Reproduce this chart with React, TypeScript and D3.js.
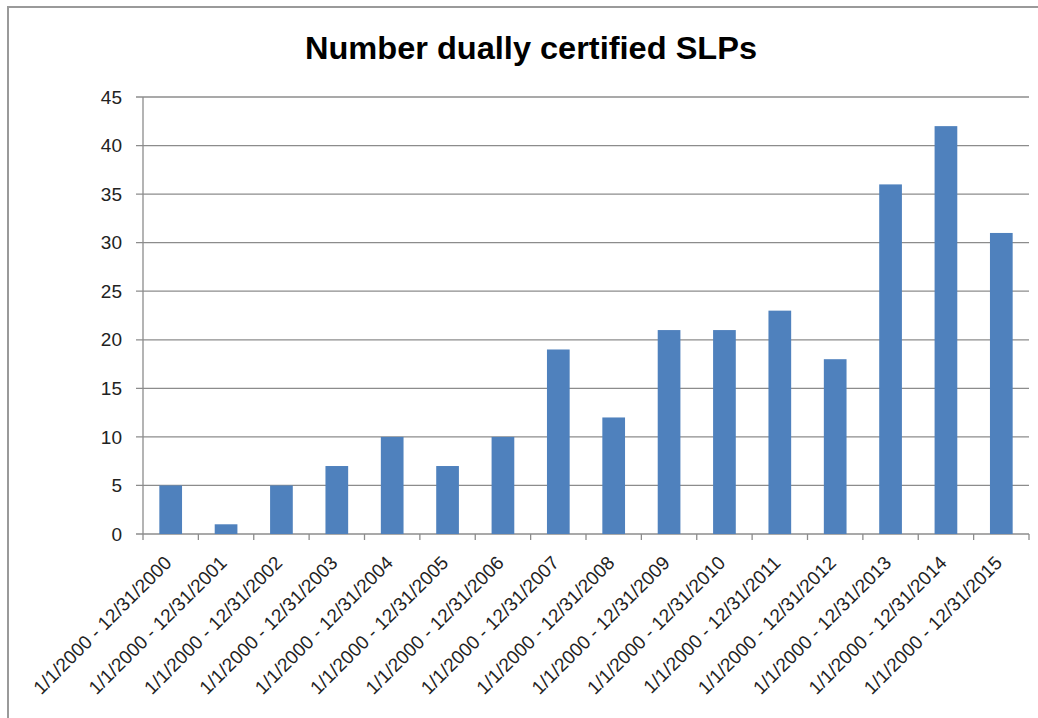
import React from "react";
import * as d3 from "d3";

const categories: string[] = [
  "1/1/2000 - 12/31/2000",
  "1/1/2000 - 12/31/2001",
  "1/1/2000 - 12/31/2002",
  "1/1/2000 - 12/31/2003",
  "1/1/2000 - 12/31/2004",
  "1/1/2000 - 12/31/2005",
  "1/1/2000 - 12/31/2006",
  "1/1/2000 - 12/31/2007",
  "1/1/2000 - 12/31/2008",
  "1/1/2000 - 12/31/2009",
  "1/1/2000 - 12/31/2010",
  "1/1/2000 - 12/31/2011",
  "1/1/2000 - 12/31/2012",
  "1/1/2000 - 12/31/2013",
  "1/1/2000 - 12/31/2014",
  "1/1/2000 - 12/31/2015",
];
const values: number[] = [5, 1, 5, 7, 10, 7, 10, 19, 12, 21, 21, 23, 18, 36, 42, 31];
const yTicks: number[] = [0, 5, 10, 15, 20, 25, 30, 35, 40, 45];
const title = "Number dually certified SLPs";

const W = 1038;
const H = 718;
const left = 143;
const right = 1029;
const top = 97;
const bottom = 534;

export default function App() {
  const x = d3.scaleBand<string>().domain(categories).range([left, right]).paddingInner(0).paddingOuter(0);
  const y = d3.scaleLinear().domain([0, 45]).range([bottom, top]);
  const bw = x.bandwidth();
  const barW = bw * 0.41;
  const font = "'Liberation Sans', Arial, sans-serif";
  const boundaries = categories.map((c) => x(c) as number).concat([right]);

  return (
    <svg
      width={W}
      height={H}
      style={{ position: "absolute", left: 0, top: 0, background: "#fff" }}
    >
      <rect x={0} y={0} width={W} height={H} fill="#fff" />
      <rect x={8} y={7} width={W + 20} height={H + 20} fill="none" stroke="#9a9a9a" strokeWidth={2} />
      <text
        x={531}
        y={59}
        textAnchor="middle"
        fontFamily={font}
        fontWeight="bold"
        fontSize={31}
        textLength={452}
        lengthAdjust="spacingAndGlyphs"
        fill="#000"
      >
        {title}
      </text>
      {yTicks.map((t) => (
        <g key={t}>
          <line x1={136} x2={right} y1={y(t)} y2={y(t)} stroke="#8c8c8c" strokeWidth={1.3} />
          <text
            x={122}
            y={y(t)}
            dy="0.35em"
            textAnchor="end"
            fontFamily={font}
            fontSize={19}
            fill="#222"
          >
            {t}
          </text>
        </g>
      ))}
      <line x1={left} x2={left} y1={top} y2={bottom} stroke="#8c8c8c" strokeWidth={1.3} />
      {boundaries.map((bx, i) => (
        <line key={i} x1={bx} x2={bx} y1={bottom} y2={bottom + 6} stroke="#8c8c8c" strokeWidth={1.3} />
      ))}
      {values.map((v, i) => {
        const cx = (x(categories[i]) as number) + bw / 2;
        return (
          <rect
            key={i}
            x={cx - barW / 2}
            y={y(v)}
            width={barW}
            height={bottom - y(v)}
            fill="#4f81bd"
          />
        );
      })}
      {categories.map((c) => {
        const cx = (x(c) as number) + bw / 2;
        return (
          <text
            key={c}
            transform={`translate(${cx + 2},${bottom + 30}) rotate(-45)`}
            textAnchor="end"
            fontFamily={font}
            fontSize={19}
            fill="#222"
          >
            {c}
          </text>
        );
      })}
    </svg>
  );
}
